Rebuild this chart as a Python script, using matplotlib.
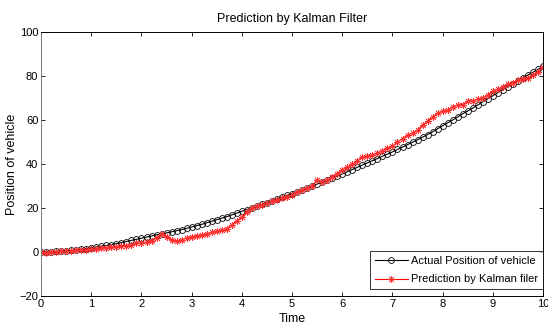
import numpy as np
import matplotlib
matplotlib.use('Agg')
import matplotlib.pyplot as plt

plt.rcParams['font.family'] = ['Liberation Sans Narrow', 'Liberation Sans', 'DejaVu Sans']

# time samples, 0 to 10 in steps of 0.1
time = np.round(np.arange(101) * 0.1, 1)

actual = [
    0.0, 0.1, 0.2, 0.3, 0.5, 0.6, 0.8, 1.0, 1.3, 1.6, 2.0,
    2.3, 2.7, 3.0, 3.4, 3.8, 4.3, 4.8, 5.3, 5.8, 6.3,
    6.8, 7.3, 7.8, 8.3, 8.7, 9.2, 9.7, 10.2, 10.8, 11.4,
    12.0, 12.6, 13.3, 14.0, 14.7, 15.4, 16.1, 16.9, 17.7, 18.5,
    19.3, 20.1, 20.9, 21.7, 22.5, 23.3, 24.1, 24.9, 25.7, 26.5,
    27.3, 28.2, 29.1, 30.0, 30.9, 31.8, 32.7, 33.6, 34.5, 35.5,
    36.5, 37.5, 38.5, 39.5, 40.5, 41.5, 42.5, 43.5, 44.5, 45.5,
    46.6, 47.7, 48.8, 49.9, 51.0, 52.2, 53.4, 54.6, 56.0, 57.4,
    58.7, 60.0, 61.4, 62.8, 64.1, 65.4, 66.8, 68.2, 69.6, 71.0,
    72.4, 73.8, 75.2, 76.5, 77.8, 79.1, 80.4, 81.7, 83.0, 84.3,
]

predicted = [
    0.0, -0.3, 0.2, 0.1, 0.4, 0.3, 0.5, 0.9, 1.1, 1.0, 1.3,
    1.5, 1.8, 2.0, 2.1, 2.4, 2.9, 2.8, 3.3, 3.9, 4.1,
    4.5, 5.2, 6.6, 8.0, 7.0, 5.3, 5.0, 5.6, 6.4, 6.9,
    7.4, 7.9, 8.3, 8.9, 9.4, 9.8, 10.6, 12.5, 14.0, 16.0,
    18.2, 20.0, 20.7, 21.5, 22.3, 23.0, 23.6, 24.6, 25.2, 26.0,
    27.2, 28.0, 28.9, 30.0, 32.8, 32.0, 32.6, 34.0, 35.6, 37.4,
    38.5, 39.8, 41.5, 43.0, 43.5, 44.2, 45.0, 46.0, 47.2, 48.0,
    50.0, 51.5, 53.0, 54.0, 55.5, 57.5, 59.5, 61.5, 63.0, 64.0,
    64.5, 66.0, 66.8, 67.0, 68.5, 68.8, 69.5, 70.0, 71.5, 73.0,
    74.0, 75.2, 76.5, 77.0, 78.0, 78.5, 79.0, 80.5, 82.0, 84.0,
]

fig = plt.figure(figsize=(5.48, 3.29), dpi=100)
ax = fig.add_axes([0.075, 0.10, 0.916, 0.803])

ax.plot(time, actual, color='black', lw=0.8, marker='o', ms=4.2,
        mfc='none', mec='black', mew=0.6, label='Actual Position of vehicle')
ax.plot(time, predicted, color='red', lw=0.8, marker=(8, 2, 0), ms=5,
        mec='#ff3030', mew=0.6, label='Prediction by Kalman filer')

ax.set_xlim(0, 10)
ax.set_ylim(-20, 100)
ax.set_xticks(range(0, 11))
ax.set_yticks(range(-20, 101, 20))
ax.tick_params(direction='in', top=True, right=True, labelsize=8, length=3, width=0.6, pad=2)
for s in ax.spines.values():
    s.set_linewidth(0.7)
ax.spines['left'].set_color('#777777')

ax.set_title('Prediction by Kalman Filter', fontsize=9, pad=7)
ax.set_xlabel('Time', fontsize=9, labelpad=3)
ax.set_ylabel('Position of vehicle', fontsize=9, labelpad=1)

leg = ax.legend(loc='lower right', bbox_to_anchor=(1.0, 0.025), fontsize=8,
                frameon=True, fancybox=False, handlelength=2.9, borderpad=0.45,
                labelspacing=0.75, borderaxespad=0.0, handletextpad=0.3)
leg.get_frame().set_edgecolor('black')
leg.get_frame().set_linewidth(0.7)

fig.savefig('out.png', dpi=100)
